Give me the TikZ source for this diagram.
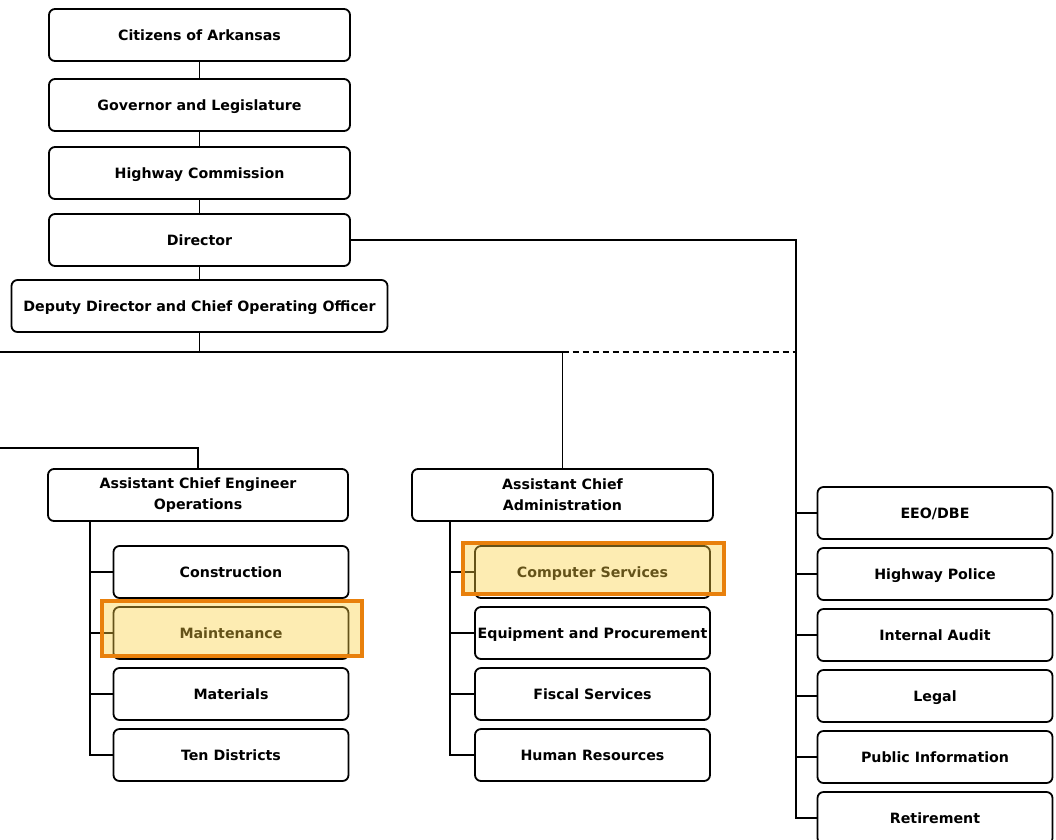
\documentclass[tikz,border=0pt]{standalone}
\usepackage{fontspec}
\setmainfont{DejaVu Sans}
\usetikzlibrary{positioning}

\begin{document}
\begin{tikzpicture}[x=1pt, y=-1pt, line width=1.8pt,
		unit/.style={draw, line width=1.8pt, outer sep=0pt, rounded corners=6pt, minimum height=52pt, inner sep=2pt, align=center, font=\fontsize{14.2}{21}\selectfont\bfseries},
		box/.style={unit, text height=13pt, text depth=2.6pt},
		sub/.style={box, minimum width=235pt},
		hilite/.style={draw={rgb,255:red,232;green,128;blue,12}, line width=4pt, fill={rgb,255:red,250;green,207;blue,63}, fill opacity=0.4}]
		\useasboundingbox (0,0) rectangle (1056,839);
		\clip (0,0) rectangle (1056,839);
		% chain at the top
		\node [box, minimum width=301pt] at (199.5,35) (citizens) {Citizens of Arkansas};
		\node [box, minimum width=301pt, below=18pt of citizens] (governor) {Governor and Legislature};
		\node [box, minimum width=301pt, below=16pt of governor] (commission) {Highway Commission};
		\node [box, minimum width=301pt, below=15pt of commission] (director) {Director};
		\node [box, minimum width=376pt, below=14pt of director] (deputy) {Deputy Director and Chief Operating Officer};
		% the two assistant chiefs
		\node [unit, minimum width=300pt] at (198,495) (ops) {Assistant Chief Engineer\\Operations};
		\node [unit, minimum width=301pt] at (562.5,495) (admin) {Assistant Chief\\Administration};
		\node [sub] at (231,572) (constr) {Construction};
		\node [sub, below=9pt of constr] (maint) {Maintenance};
		\node [sub, below=9pt of maint] (materials) {Materials};
		\node [sub, below=9pt of materials] (tendist) {Ten Districts};
		\node [sub] at (592.5,572) (computer) {Computer Services};
		\node [sub, below=9pt of computer] (equip) {Equipment and Procurement};
		\node [sub, below=9pt of equip] (fiscal) {Fiscal Services};
		\node [sub, below=9pt of fiscal] (hr) {Human Resources};
		% staff offices
		\node [sub] at (935,513) (eeo) {EEO/DBE};
		\node [sub, below=9pt of eeo] (police) {Highway Police};
		\node [sub, below=9pt of police] (audit) {Internal Audit};
		\node [sub, below=9pt of audit] (legal) {Legal};
		\node [sub, below=9pt of legal] (pubinfo) {Public Information};
		\node [sub, below=9pt of pubinfo] (retire) {Retirement};
		\draw (citizens) -- (governor);
		\draw (governor) -- (commission);
		\draw (commission) -- (director);
		\draw (director) -- (deputy);
		\coordinate (rbus) at (796,0);
		\draw (director.east) -| (rbus |- retire.west) -- (retire.west);
		\foreach \n in {eeo,police,audit,legal,pubinfo}
			\draw (\n.west) -- (\n.west -| rbus);
		\coordinate (hbus) at (0,352);
		\draw (deputy.south) -- (deputy.south |- hbus);
		\draw (hbus) -| (admin.north);
		\draw [dash pattern=on 6pt off 4pt] (admin.north |- hbus) -- (rbus |- hbus);
		\coordinate (lstub) at (0,448);
		\draw (lstub) -| (ops.north);
		\coordinate (opsbus) at ([xshift=42pt]ops.south west);
		\draw (opsbus) |- (tendist.west);
		\foreach \n in {constr,maint,materials}
			\draw (\n.west) -- (\n.west -| opsbus);
		\coordinate (admbus) at ([xshift=38pt]admin.south west);
		\draw (admbus) |- (hr.west);
		\foreach \n in {computer,equip,fiscal}
			\draw (\n.west) -- (\n.west -| admbus);
		% highlighted units
		\draw [hilite] ([shift={(-12pt,6pt)}]maint.north west) rectangle ([shift={(13pt,3pt)}]maint.south east);
		\draw [hilite] ([shift={(-12pt,3pt)}]computer.north west) rectangle ([shift={(14pt,4pt)}]computer.south east);
	\end{tikzpicture}
\end{document}
